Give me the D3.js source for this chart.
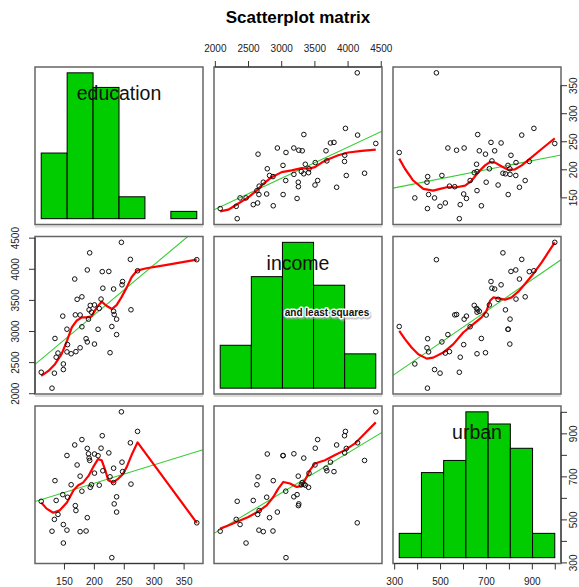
<!DOCTYPE html>
<html>
<head>
<meta charset="utf-8">
<script src="https://cdn.jsdelivr.net/npm/d3@7"></script>
<style>
  body { margin: 0; background: #fff; }
  svg { font-family: "Liberation Sans", Arial, Helvetica, sans-serif; }
</style>
</head>
<body>
<div id="chart"></div>
<script>
// Anscombe state data (51 states)
var states = ["ME","NH","VT","MA","RI","CT","NY","NJ","PA","OH","IN","IL","MI","WI","MN","IA","MO","ND","SD","NE","KS","DE","MD","DC","VA","WV","NC","SC","GA","FL","KY","TN","AL","MS","AR","LA","OK","TX","MT","ID","WY","CO","NM","AZ","UT","NV","WA","OR","CA","AK","HI"];
var education = [189,169,230,168,180,193,261,214,201,172,194,189,233,209,262,234,177,177,187,148,196,248,247,246,180,149,155,149,156,191,140,137,112,130,134,162,135,155,238,170,238,192,227,207,201,225,215,233,273,372,212];
var income = [2824,3259,3072,3835,3549,4256,4151,3954,3419,3509,3412,3981,3675,3363,3341,3265,3257,2730,2876,3239,3303,3795,3742,4425,3068,2470,2664,2380,2781,3191,2645,2579,2337,2081,2322,2634,2880,3029,2942,2668,3190,3340,2651,3027,2790,3957,3688,3317,3968,4146,3513];
var urban = [508,564,322,846,871,774,856,889,715,753,649,830,738,659,664,572,701,443,446,615,661,722,766,1000,631,390,450,476,603,805,523,588,584,445,500,661,680,797,534,541,605,785,698,796,804,809,726,671,909,484,831];

// histogram breaks and counts
var eduBreaks = [100,150,200,250,300,350,400];
var eduCounts = [9,20,18,3,0,1];
var incBreaks = [2000,2500,3000,3500,4000,4500];
var incCounts = [5,13,17,12,4];
var urbBreaks = [300,400,500,600,700,800,900,1000];
var urbCounts = [2,7,8,12,11,9,2];

// axis ticks
var eduTicks = [150,200,250,300,350];
var eduLabels = [150,200,250,300,350];
var incTicks = [2000,2500,3000,3500,4000,4500];
var incLabels = [2000,2500,3000,3500,4000,4500];
var urbTicks = [300,400,500,600,700,800,900,1000];
var urbLabels = [300,500,700,900];

// smoother curves, [x, y]
var smoothIncEdu = [[2081,125],[2203,128],[2354,139],[2504,150],[2631,162],[2730,174],[2857,186],[3007,195],[3158,198],[3309,202],[3408,201],[3509,204],[3610,212],[3710,218],[3860,225],[4011,230],[4213,233],[4425,235]];
var smoothUrbEdu = [[322,219],[347,201],[383,180],[427,165],[470,162],[500,165],[529,168],[572,168],[609,171],[638,180],[667,195],[696,207],[718,213],[740,212],[769,205],[797,199],[827,200],[856,207],[892,219],[936,234],[972,246],[1000,255]];
var smoothEduInc = [[112,2278],[124,2358],[135,2466],[146,2627],[155,2842],[163,3056],[171,3164],[180,3218],[188,3218],[196,3234],[205,3379],[213,3471],[221,3406],[230,3353],[238,3417],[246,3540],[255,3701],[263,3863],[272,3970],[288,4008],[322,4062],[372,4146]];
var smoothUrbInc = [[322,3003],[347,2869],[376,2734],[405,2627],[442,2556],[470,2572],[514,2653],[558,2789],[601,2976],[645,3111],[681,3218],[703,3326],[718,3487],[732,3540],[754,3524],[783,3503],[812,3540],[841,3632],[870,3756],[906,3917],[943,4104],[972,4266],[1000,4425]];
var smoothEduUrb = [[112,578],[121,550],[132,531],[143,542],[155,578],[166,635],[174,659],[182,671],[191,702],[199,744],[207,780],[213,775],[219,729],[224,682],[232,671],[241,690],[248,709],[255,744],[263,799],[273,858],[372,484]];
var smoothIncUrb = [[2081,457],[2203,472],[2354,491],[2504,511],[2655,537],[2781,565],[2881,604],[2956,643],[3032,674],[3133,667],[3233,651],[3309,655],[3358,682],[3434,729],[3509,760],[3660,775],[3811,799],[3961,822],[4112,853],[4263,900],[4425,951]];

var varNames = ["education", "income", "urban"];
var values = { education: education, income: income, urban: urban };
var hists = {
  education: { breaks: eduBreaks, counts: eduCounts },
  income: { breaks: incBreaks, counts: incCounts },
  urban: { breaks: urbBreaks, counts: urbCounts }
};
var ticks = {
  education: { at: eduTicks, lab: eduLabels },
  income: { at: incTicks, lab: incLabels },
  urban: { at: urbTicks, lab: urbLabels }
};
var smooths = {
  "income|education": smoothIncEdu,
  "urban|education": smoothUrbEdu,
  "education|income": smoothEduInc,
  "urban|income": smoothUrbInc,
  "education|urban": smoothEduUrb,
  "income|urban": smoothIncUrb
};

var svgWidth = 579, svgHeight = 587;
var colX = [35, 214, 393];
var rowY = [67, 236.5, 406];
var pw = 168, ph = 157.5;

var svg = d3.select("#chart").append("svg")
  .attr("width", svgWidth)
  .attr("height", svgHeight);

// R style 4% range extension
function extendRange(ext) {
  var d = (ext[1] - ext[0]) * 0.04;
  return [ext[0] - d, ext[1] + d];
}

function xScaleFor(name, j) {
  return d3.scaleLinear().domain(extendRange(d3.extent(values[name]))).range([colX[j], colX[j] + pw]);
}
function yScaleFor(name, i) {
  return d3.scaleLinear().domain(extendRange(d3.extent(values[name]))).range([rowY[i] + ph, rowY[i]]);
}

// title
svg.append("text")
  .attr("x", 298)
  .attr("y", 23)
  .attr("text-anchor", "middle")
  .style("font-weight", "bold")
  .style("font-size", "17px")
  .text("Scatterplot matrix");

varNames.forEach(function(rowVar, i) {
  varNames.forEach(function(colVar, j) {
    var g = svg.append("g");
    var clipId = "clip" + i + j;
    svg.append("clipPath").attr("id", clipId)
      .append("rect")
      .attr("x", colX[j]).attr("y", rowY[i])
      .attr("width", pw).attr("height", ph);

    // faint shadow under the panel
    if (i < 2) {
      g.append("line")
        .attr("x1", colX[j]).attr("x2", colX[j] + pw)
        .attr("y1", rowY[i] + ph + 2).attr("y2", rowY[i] + ph + 2)
        .attr("stroke", "#dcdcdc").attr("stroke-width", 2);
    }

    if (i === j) {
      // histogram on the diagonal
      var h = hists[rowVar];
      var hx = d3.scaleLinear()
        .domain(extendRange(d3.extent(h.breaks)))
        .range([colX[j], colX[j] + pw]);
      var hy = d3.scaleLinear()
        .domain(extendRange([0, d3.max(h.counts)]))
        .range([rowY[i] + ph, rowY[i]]);
      g.selectAll("rect.bar")
        .data(h.counts)
        .enter()
        .append("rect")
        .attr("class", "bar")
        .attr("x", function(d, k) { return hx(h.breaks[k]); })
        .attr("width", function(d, k) { return hx(h.breaks[k + 1]) - hx(h.breaks[k]); })
        .attr("y", function(d) { return hy(d); })
        .attr("height", function(d) { return hy(0) - hy(d); })
        .attr("fill", "#00cc00")
        .attr("stroke", "#000")
        .attr("stroke-width", 1);

      g.append("text")
        .attr("x", colX[j] + pw / 2)
        .attr("y", rowY[i] + 33)
        .attr("text-anchor", "middle")
        .style("font-size", "19.5px")
        .attr("fill", "#111")
        .text(rowVar);
    } else {
      var x = xScaleFor(colVar, j);
      var y = yScaleFor(rowVar, i);
      var xs = values[colVar], ys = values[rowVar];
      var pts = xs.map(function(v, k) { return [v, ys[k]]; });

      var inner = g.append("g").attr("clip-path", "url(#" + clipId + ")");

      // least squares line
      var mx = d3.mean(xs), my = d3.mean(ys);
      var sxy = d3.sum(pts, function(p) { return (p[0] - mx) * (p[1] - my); });
      var sxx = d3.sum(xs, function(v) { return (v - mx) * (v - mx); });
      var b = sxy / sxx, a = my - b * mx;
      var dom = x.domain();
      inner.append("line")
        .attr("x1", x(dom[0])).attr("y1", y(a + b * dom[0]))
        .attr("x2", x(dom[1])).attr("y2", y(a + b * dom[1]))
        .attr("stroke", "#33cc33")
        .attr("stroke-width", 1.1);

      // smoother
      var line = d3.line()
        .x(function(d) { return x(d[0]); })
        .y(function(d) { return y(d[1]); });
      inner.append("path")
        .datum(smooths[colVar + "|" + rowVar])
        .attr("d", line)
        .attr("fill", "none")
        .attr("stroke", "#ff0000")
        .attr("stroke-width", 2.2)
        .attr("stroke-linejoin", "round");

      // points
      inner.selectAll("circle")
        .data(pts)
        .enter()
        .append("circle")
        .attr("cx", function(d) { return x(d[0]); })
        .attr("cy", function(d) { return y(d[1]); })
        .attr("r", 2.3)
        .attr("fill", "none")
        .attr("stroke", "#111")
        .attr("stroke-width", 1);
    }

    // panel box
    g.append("rect")
      .attr("x", colX[j]).attr("y", rowY[i])
      .attr("width", pw).attr("height", ph)
      .attr("fill", "none")
      .attr("stroke", "#666")
      .attr("stroke-width", 1.5);
  });
});

// axes, alternating sides like R pairs()
function styleAxis(ax, spec) {
  ax.select(".domain").remove();
  ax.selectAll(".tick line").attr("stroke", "#333");
  ax.selectAll(".tick text")
    .attr("fill", "#222")
    .style("font-size", "10px")
    .text(function(d) { return spec.lab.indexOf(d) >= 0 ? d : ""; });
}

function axisLineH(yPos, sc, spec) {
  svg.append("line")
    .attr("x1", sc(spec.at[0])).attr("x2", sc(spec.at[spec.at.length - 1]))
    .attr("y1", yPos).attr("y2", yPos)
    .attr("stroke", "#333");
}
function axisLineV(xPos, sc, spec) {
  svg.append("line")
    .attr("y1", sc(spec.at[0])).attr("y2", sc(spec.at[spec.at.length - 1]))
    .attr("x1", xPos).attr("x2", xPos)
    .attr("stroke", "#333");
}

// top: income over column 2
var incX = xScaleFor("income", 1);
var topAxis = svg.append("g")
  .attr("transform", "translate(0," + rowY[0] + ")")
  .call(d3.axisTop(incX).tickValues(incTicks).tickSize(6).tickFormat(d3.format("d")));
styleAxis(topAxis, ticks.income);
topAxis.selectAll(".tick text").attr("y", -19).attr("dy", "0.35em");
axisLineH(rowY[0], incX, ticks.income);

// bottom: education under column 1, urban under column 3
[["education", 0], ["urban", 2]].forEach(function(s) {
  var sc = xScaleFor(s[0], s[1]);
  var ax = svg.append("g")
    .attr("transform", "translate(0," + (rowY[2] + ph) + ")")
    .call(d3.axisBottom(sc).tickValues(ticks[s[0]].at).tickSize(6).tickFormat(d3.format("d")));
  styleAxis(ax, ticks[s[0]]);
  ax.selectAll(".tick text").attr("y", 18).attr("dy", "0.35em");
  axisLineH(rowY[2] + ph, sc, ticks[s[0]]);
});

// left: income beside row 2
var incY = yScaleFor("income", 1);
var leftAxis = svg.append("g")
  .attr("transform", "translate(" + colX[0] + ",0)")
  .call(d3.axisLeft(incY).tickValues(incTicks).tickSize(6).tickFormat(d3.format("d")));
styleAxis(leftAxis, ticks.income);
leftAxis.selectAll(".tick text")
  .attr("transform", "rotate(-90)")
  .attr("x", 0).attr("y", -20).attr("dy", "0.35em")
  .attr("text-anchor", "middle");
axisLineV(colX[0], incY, ticks.income);

// right: education beside row 1, urban beside row 3
[["education", 0], ["urban", 2]].forEach(function(s) {
  var sc = yScaleFor(s[0], s[1]);
  var ax = svg.append("g")
    .attr("transform", "translate(" + (colX[2] + pw) + ",0)")
    .call(d3.axisRight(sc).tickValues(ticks[s[0]].at).tickSize(6).tickFormat(d3.format("d")));
  styleAxis(ax, ticks[s[0]]);
  ax.selectAll(".tick text")
    .attr("transform", "rotate(-90)")
    .attr("x", 0).attr("y", 12).attr("dy", "0.35em")
    .attr("text-anchor", "middle");
  axisLineV(colX[2] + pw, sc, ticks[s[0]]);
});

// stray legend text with a halo, over the income histogram
var note = svg.append("g").style("font-size", "10px").style("font-weight", "bold");
note.append("text")
  .attr("x", 328).attr("y", 317.5)
  .attr("text-anchor", "middle")
  .attr("fill", "#999").attr("stroke", "#aaa").attr("stroke-width", 3)
  .attr("stroke-linejoin", "round").attr("opacity", 0.6)
  .text("and least squares");
note.append("text")
  .attr("x", 327).attr("y", 316)
  .attr("text-anchor", "middle")
  .attr("fill", "#fff").attr("stroke", "#fff").attr("stroke-width", 3)
  .attr("stroke-linejoin", "round")
  .text("and least squares");
note.append("text")
  .attr("x", 327).attr("y", 316)
  .attr("text-anchor", "middle")
  .attr("fill", "#111")
  .text("and least squares");
</script>
</body>
</html>
